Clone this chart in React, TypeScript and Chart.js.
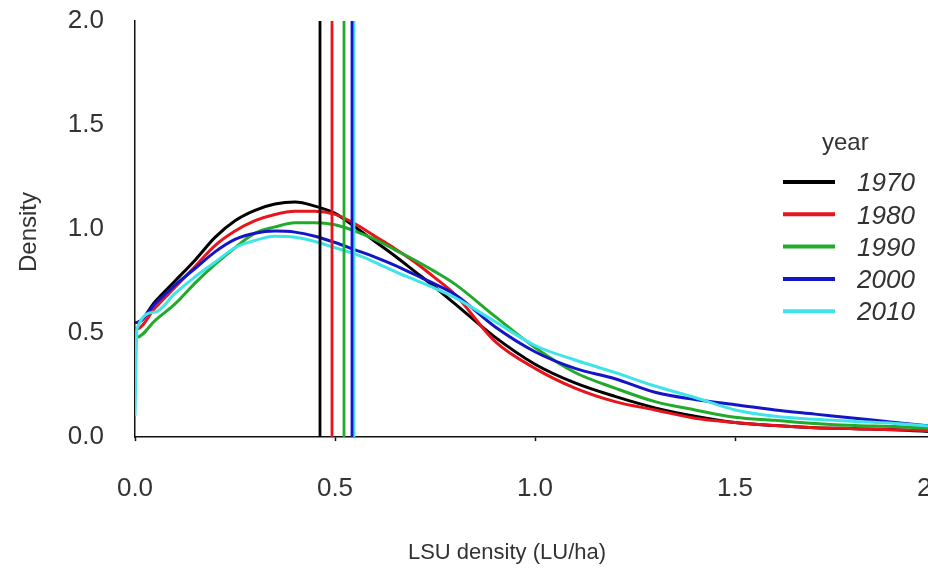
import React, { useEffect, useRef } from 'react';
import { Chart, registerables } from 'chart.js';

Chart.register(...registerables);

// ---- data ----
const years = ['1970', '1980', '1990', '2000', '2010'];
const colors = ['#000000', '#e8141c', '#22aa2a', '#1515c8', '#40e4e8'];

const xs = [0, 0.005, 0.05, 0.1, 0.15, 0.2, 0.25, 0.3, 0.35, 0.4, 0.45, 0.5, 0.55, 0.6, 0.65, 0.7, 0.75, 0.8, 0.9, 1.0, 1.1, 1.2, 1.3, 1.4, 1.5, 1.6, 1.7, 1.8, 1.9, 2.0];

const d1970 = [0.55, 0.55, 0.65, 0.75, 0.85, 0.96, 1.04, 1.09, 1.12, 1.13, 1.11, 1.075, 1.01, 0.94, 0.87, 0.795, 0.72, 0.64, 0.48, 0.35, 0.26, 0.195, 0.14, 0.1, 0.07, 0.055, 0.045, 0.04, 0.035, 0.025];
const d1980 = [0.52, 0.52, 0.62, 0.72, 0.82, 0.92, 0.99, 1.04, 1.07, 1.085, 1.085, 1.07, 1.025, 0.965, 0.905, 0.84, 0.765, 0.685, 0.46, 0.33, 0.235, 0.17, 0.13, 0.09, 0.07, 0.055, 0.045, 0.04, 0.035, 0.03];
const d1990 = [0.48, 0.48, 0.56, 0.64, 0.74, 0.83, 0.91, 0.98, 1.01, 1.03, 1.03, 1.02, 0.99, 0.95, 0.9, 0.85, 0.795, 0.735, 0.58, 0.43, 0.31, 0.235, 0.17, 0.13, 0.095, 0.08, 0.065, 0.055, 0.05, 0.04];
const d2000 = [0.55, 0.55, 0.64, 0.73, 0.81, 0.89, 0.95, 0.98, 0.99, 0.985, 0.965, 0.935, 0.9, 0.865, 0.825, 0.78, 0.735, 0.685, 0.53, 0.41, 0.33, 0.28, 0.215, 0.18, 0.155, 0.13, 0.11, 0.09, 0.07, 0.05];
const d2010 = [0.1, 0.52, 0.6, 0.69, 0.77, 0.84, 0.91, 0.945, 0.965, 0.96, 0.94, 0.91, 0.88, 0.84, 0.795, 0.755, 0.715, 0.67, 0.555, 0.44, 0.37, 0.31, 0.245, 0.19, 0.13, 0.1, 0.085, 0.075, 0.065, 0.05];
const series = [d1970, d1980, d1990, d2000, d2010];

// mean LSU density per year (vertical lines)
const meanLines = [0.4625, 0.4925, 0.5225, 0.5425, 0.5475];

const xTicks = [0, 0.5, 1.0, 1.5, 2.0];
const yTicks = [0, 0.5, 1.0, 1.5, 2.0];
const xTitle = 'LSU density (LU/ha)';
const yTitle = 'Density';
const legendTitle = 'year';

const FONT = '"Liberation Sans", Arial, sans-serif';
const TEXT = '#333333';

export default function App() {
  const ref = useRef<HTMLCanvasElement | null>(null);

  useEffect(() => {
    const canvas = ref.current;
    if (!canvas) return;

    const curveSets = years.map((y, i) => ({
      label: y,
      data: xs.map((x, j) => ({ x, y: series[i][j] })),
      borderColor: colors[i],
      backgroundColor: colors[i],
      borderWidth: 3,
      pointRadius: 0,
      cubicInterpolationMode: 'monotone' as const,
      fill: false,
      order: 5 - i,
      isCurve: true,
    }));

    const vSets = years.map((y, i) => ({
      label: y + ' mean',
      data: [
        { x: meanLines[i], y: 0 },
        { x: meanLines[i], y: 2 },
      ],
      borderColor: colors[i],
      borderWidth: 2.8,
      pointRadius: 0,
      fill: false,
      order: i === 4 ? -1 : -2 - i,
      isCurve: false,
    }));

    const legendPlugin = {
      id: 'customLegend',
      afterDraw(chart: any) {
        const ctx = chart.ctx;
        ctx.save();
        ctx.fillStyle = TEXT;
        ctx.textBaseline = 'middle';
        ctx.textAlign = 'left';
        ctx.font = `24px ${FONT}`;
        ctx.fillText(legendTitle, 822, 143);
        const sets = chart.data.datasets.filter((d: any) => d.isCurve);
        sets.forEach((d: any, i: number) => {
          const yy = 182 + i * 32.3;
          ctx.strokeStyle = d.borderColor;
          ctx.lineWidth = 4;
          ctx.beginPath();
          ctx.moveTo(783, yy);
          ctx.lineTo(835, yy);
          ctx.stroke();
          ctx.fillStyle = TEXT;
          ctx.font = `italic 26px ${FONT}`;
          ctx.fillText(d.label, 857, yy + 2);
        });
        ctx.restore();
      },
    };

    const titlePlugin = {
      id: 'axisTitles',
      afterDraw(chart: any) {
        const ctx = chart.ctx;
        ctx.save();
        ctx.fillStyle = TEXT;
        ctx.textAlign = 'center';
        ctx.textBaseline = 'middle';
        ctx.font = `22px ${FONT}`;
        ctx.fillText(xTitle, 507, 553);
        ctx.translate(29, 232);
        ctx.rotate(-Math.PI / 2);
        ctx.font = `24px ${FONT}`;
        ctx.fillText(yTitle, 0, 0);
        ctx.restore();
      },
    };

    const chart = new Chart(canvas, {
      type: 'line',
      data: { datasets: [...curveSets, ...vSets] as any },
      options: {
        responsive: false,
        animation: false,
        layout: { padding: { top: 21, right: 45, left: 0, bottom: 0 } },
        plugins: {
          legend: { display: false },
          tooltip: { enabled: false },
          title: { display: false },
        },
        scales: {
          x: {
            type: 'linear',
            min: 0,
            max: 2,
            afterBuildTicks: (s: any) => {
              s.ticks = xTicks.map((v) => ({ value: v }));
            },
            afterFit: (s: any) => {
              s.height = 131;
              s.paddingLeft = 0;
              s.paddingRight = 0;
            },
            grid: {
              display: true,
              drawOnChartArea: false,
              drawTicks: true,
              tickLength: 4,
              color: '#111',
              tickWidth: 1.5,
            },
            border: { display: true, color: '#111', width: 1.5 },
            ticks: {
              color: TEXT,
              font: { family: FONT, size: 26 },
              padding: 32,
              maxRotation: 0,
              callback: (v: any) => Number(v).toFixed(1),
            },
          },
          y: {
            type: 'linear',
            min: 0,
            max: 2,
            afterBuildTicks: (s: any) => {
              s.ticks = yTicks.map((v) => ({ value: v }));
            },
            afterFit: (s: any) => {
              s.width = 135;
              s.paddingTop = 0;
              s.paddingBottom = 0;
            },
            grid: { display: false, drawTicks: false, tickLength: 0 },
            border: { display: true, color: '#111', width: 1.5 },
            ticks: {
              color: TEXT,
              font: { family: FONT, size: 26 },
              padding: 31,
              callback: (v: any) => Number(v).toFixed(1),
            },
          },
        },
      },
      plugins: [legendPlugin, titlePlugin],
    });

    return () => chart.destroy();
  }, []);

  return (
    <div
      style={{
        position: 'fixed',
        left: 0,
        top: 0,
        width: 928,
        height: 568,
        overflow: 'hidden',
        background: '#fff',
      }}
    >
      <canvas ref={ref} width={980} height={568} style={{ display: 'block' }} />
    </div>
  );
}
